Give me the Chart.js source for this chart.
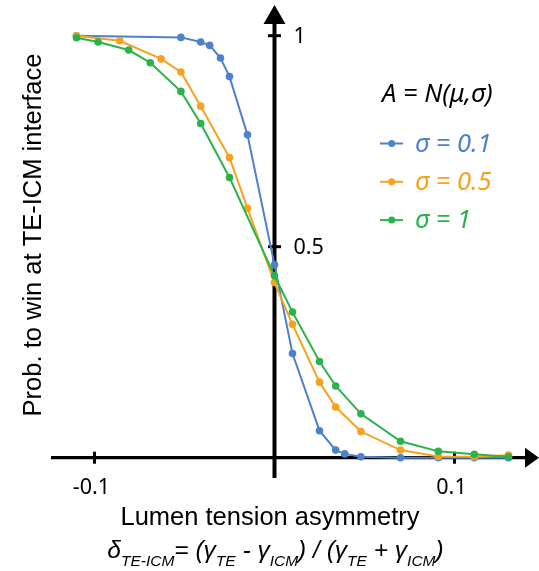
<!DOCTYPE html>
<html>
<head>
<meta charset="utf-8">
<script src="https://cdn.jsdelivr.net/npm/chart.js@4.4.1/dist/chart.umd.min.js"></script>
<style>
  html, body { margin: 0; padding: 0; background: #fff; }
  #wrap { width: 539px; height: 571px; position: relative; }
</style>
</head>
<body>
<div id="wrap"><canvas id="myChart"></canvas></div>
<script>
// sigma = 0.1
let blueX = [-0.110, -0.052, -0.041, -0.036, -0.030, -0.025, -0.015, 0.0, 0.010, 0.025, 0.034, 0.039, 0.048, 0.070, 0.091, 0.111, 0.130];
let blueY = [1.0, 0.996, 0.985, 0.977, 0.947, 0.903, 0.765, 0.457, 0.247, 0.064, 0.018, 0.009, 0.002, 0.0, 0.0, 0.0, 0.0];

// sigma = 0.5
let orangeX = [-0.110, -0.086, -0.063, -0.052, -0.041, -0.025, -0.015, 0.0, 0.010, 0.025, 0.034, 0.048, 0.070, 0.091, 0.111, 0.130];
let orangeY = [1.0, 0.988, 0.945, 0.914, 0.833, 0.711, 0.591, 0.415, 0.316, 0.179, 0.120, 0.062, 0.018, 0.003, 0.002, 0.006];

// sigma = 1
let greenX = [-0.110, -0.098, -0.081, -0.069, -0.052, -0.041, -0.025, 0.0, 0.010, 0.025, 0.034, 0.048, 0.070, 0.091, 0.111, 0.130];
let greenY = [0.995, 0.985, 0.966, 0.936, 0.868, 0.792, 0.664, 0.431, 0.345, 0.228, 0.170, 0.104, 0.039, 0.015, 0.008, 0.002];

let seriesLabels = ['σ = 0.1', 'σ = 0.5', 'σ = 1'];
let colors = ['#4f80cc', '#f7a21f', '#2bb24c'];

let xTicks = [-0.1, 0.1];
let xTickLabels = ['-0.1', '0.1'];
let yTicks = [0.5, 1];
let yTickLabels = ['0.5', '1'];

let legendTitle = 'A = N(μ,σ)';
let xTitle = 'Lumen tension asymmetry';
let yTitle = 'Prob. to win at TE-ICM interface';
// formula under the x title: [text, isSubscript]
let formula = [['δ', false], ['TE-ICM', true], ['= (γ', false], ['TE', true], [' - γ', false], ['ICM', true],
  [') / (γ', false], ['TE', true], [' + γ', false], ['ICM', true], [')', false]];

function toPoints(xs, ys) {
  return xs.map((x, i) => ({ x: x, y: ys[i] }));
}

let tickFont = '21.5px "Noto Sans", sans-serif';
let titleFont = '25.5px "Liberation Sans", Arial, sans-serif';

// axes crossing at zero with arrows, ticks, labels, legend and titles
let axesPlugin = {
  id: 'axes',
  beforeDatasetsDraw(chart) {
    let ctx = chart.ctx;
    let xs = chart.scales.x, ys = chart.scales.y;
    let x0 = xs.getPixelForValue(0), y0 = ys.getPixelForValue(0);
    ctx.save();
    ctx.strokeStyle = '#000';
    ctx.fillStyle = '#000';
    // x axis
    ctx.lineWidth = 3.3;
    ctx.beginPath();
    ctx.moveTo(xs.left, y0);
    ctx.lineTo(xs.right + 2, y0);
    ctx.stroke();
    ctx.beginPath();
    ctx.moveTo(xs.right, y0 - 10);
    ctx.lineTo(xs.right + 14, y0);
    ctx.lineTo(xs.right, y0 + 10);
    ctx.closePath();
    ctx.fill();
    // y axis
    ctx.lineWidth = 4;
    ctx.beginPath();
    ctx.moveTo(x0, ys.bottom);
    ctx.lineTo(x0, ys.top - 2);
    ctx.stroke();
    ctx.beginPath();
    ctx.moveTo(x0 - 11, ys.top);
    ctx.lineTo(x0, ys.top - 19);
    ctx.lineTo(x0 + 11, ys.top);
    ctx.closePath();
    ctx.fill();
    // ticks
    ctx.lineWidth = 3;
    ctx.font = tickFont;
    ctx.textAlign = 'center';
    ctx.textBaseline = 'middle';
    xTicks.forEach((t, i) => {
      let px = xs.getPixelForValue(t);
      ctx.beginPath();
      ctx.moveTo(px, y0 - 6);
      ctx.lineTo(px, y0 + 6);
      ctx.stroke();
      ctx.fillText(xTickLabels[i], px - 3, y0 + 30);
    });
    ctx.textAlign = 'left';
    yTicks.forEach((t, i) => {
      let py = ys.getPixelForValue(t);
      ctx.beginPath();
      ctx.moveTo(x0 - 6.5, py);
      ctx.lineTo(x0 + 6.5, py);
      ctx.stroke();
      ctx.fillText(yTickLabels[i], x0 + 19, py + 1);
    });
    ctx.restore();
  },
  afterDraw(chart) {
    let ctx = chart.ctx;
    ctx.save();
    ctx.textBaseline = 'middle';
    // legend
    ctx.font = 'italic 25.5px "Noto Sans", sans-serif';
    ctx.fillStyle = '#000';
    ctx.textAlign = 'left';
    ctx.fillText(legendTitle, 382, 95);
    chart.data.datasets.forEach((ds, i) => {
      let ly = 143.5 + i * 38.3;
      ctx.strokeStyle = ds.borderColor;
      ctx.fillStyle = ds.borderColor;
      ctx.lineWidth = 2;
      ctx.beginPath();
      ctx.moveTo(380, ly);
      ctx.lineTo(403, ly);
      ctx.stroke();
      ctx.beginPath();
      ctx.arc(391.7, ly, 3.5, 0, Math.PI * 2);
      ctx.fill();
      ctx.font = 'italic 25.5px "Noto Sans", sans-serif';
      ctx.fillText(ds.label, 415, ly + 1);
    });
    // x title
    ctx.fillStyle = '#000';
    ctx.font = titleFont;
    ctx.textAlign = 'center';
    ctx.fillText(xTitle, 270, 518);
    // formula
    let big = 'italic 24.5px "Liberation Sans", Arial, sans-serif';
    let small = 'italic 15.5px "Liberation Sans", Arial, sans-serif';
    let total = 0;
    formula.forEach(p => { ctx.font = p[1] ? small : big; total += ctx.measureText(p[0]).width; });
    let fx = 275.5 - total / 2;
    ctx.textAlign = 'left';
    ctx.textBaseline = 'alphabetic';
    formula.forEach(p => {
      ctx.font = p[1] ? small : big;
      ctx.fillText(p[0], fx, p[1] ? 566 : 558);
      fx += ctx.measureText(p[0]).width;
    });
    // y title
    ctx.translate(34, 235);
    ctx.rotate(-Math.PI / 2);
    ctx.font = titleFont;
    ctx.textAlign = 'center';
    ctx.textBaseline = 'middle';
    ctx.fillText(yTitle, 0, 0);
    ctx.restore();
  }
};

let myChart = document.getElementById('myChart').getContext('2d');

let chart = new Chart(myChart, {
  type: 'scatter',
  data: {
    datasets: [
      { label: seriesLabels[0], data: toPoints(blueX, blueY), borderColor: colors[0], backgroundColor: colors[0], order: 3 },
      { label: seriesLabels[1], data: toPoints(orangeX, orangeY), borderColor: colors[1], backgroundColor: colors[1], order: 2 },
      { label: seriesLabels[2], data: toPoints(greenX, greenY), borderColor: colors[2], backgroundColor: colors[2], order: 1 }
    ]
  },
  options: {
    responsive: true,
    maintainAspectRatio: false,
    animation: false,
    showLine: true,
    elements: {
      line: { borderWidth: 2, tension: 0 },
      point: { radius: 3.8, borderWidth: 0, hoverRadius: 3.8 }
    },
    layout: { padding: { left: 51, right: 14, top: 24, bottom: 93 } },
    scales: {
      x: { type: 'linear', display: false, min: -0.12417, max: 0.13917 },
      y: { type: 'linear', display: false, min: -0.0481, max: 1.0277 }
    },
    plugins: {
      legend: { display: false },
      tooltip: { enabled: false }
    }
  },
  plugins: [axesPlugin]
});
</script>
</body>
</html>
